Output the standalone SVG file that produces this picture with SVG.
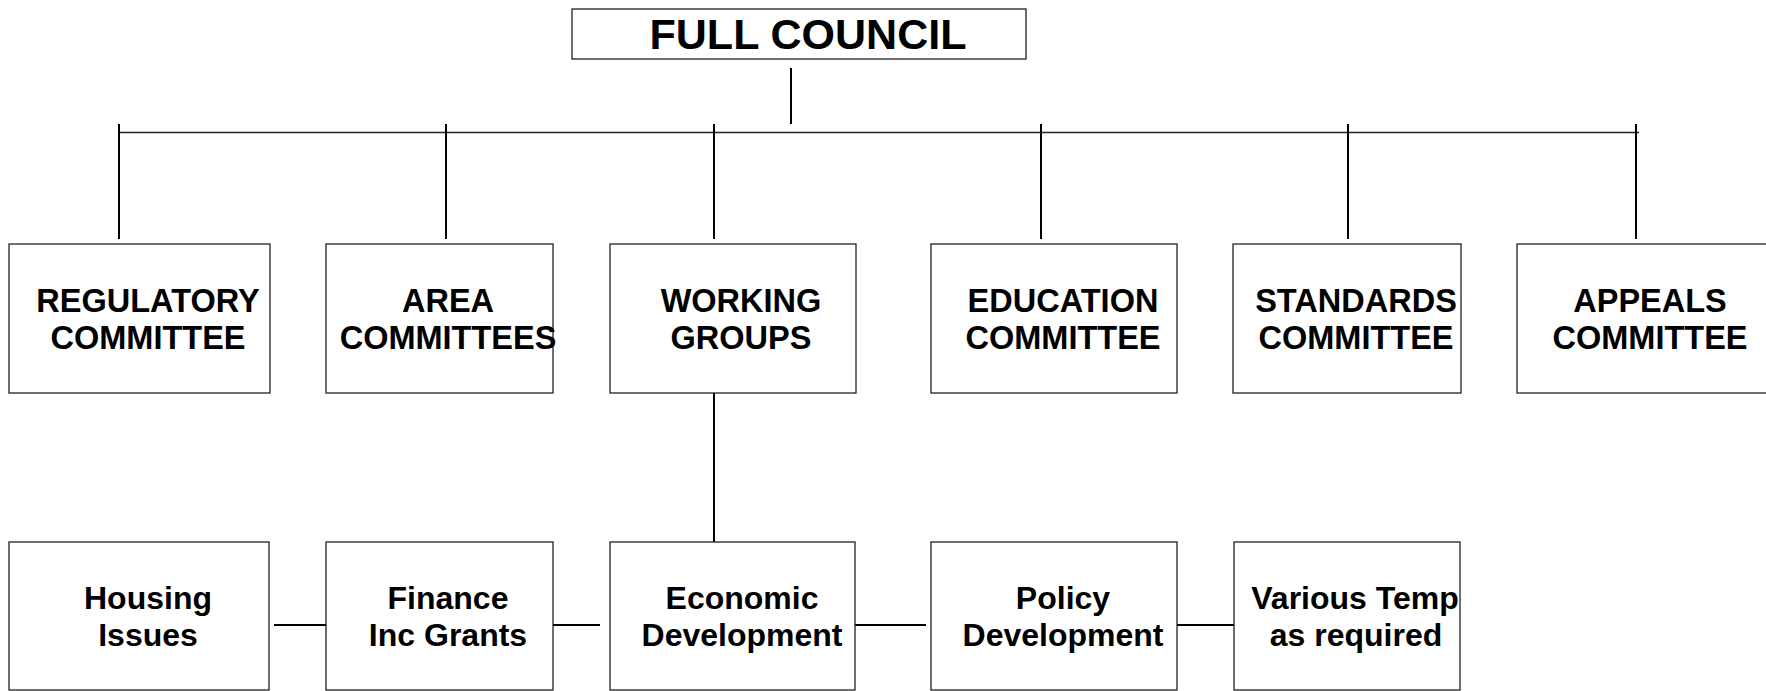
<svg xmlns="http://www.w3.org/2000/svg" width="1766" height="691" viewBox="0 0 1766 691">
<style>
.box{fill:#fff;stroke:#222;stroke-width:1.3}
.t{font-family:"Liberation Sans",Arial,sans-serif;font-weight:bold;font-size:32.5px;fill:#000;text-anchor:middle}
.s{font-size:32px}
.big{font-size:43px}
.c{stroke:#000;stroke-width:2;fill:none}
.bar{stroke:#222;stroke-width:1.3;fill:none}
</style>
<rect width="1766" height="691" fill="#fff"/>
<g id="connectors">
<line class="c" x1="791" y1="68" x2="791" y2="124"/>
<line class="bar" x1="119" y1="132.5" x2="1639" y2="132.5"/>
<line class="c" x1="119" y1="124" x2="119" y2="239"/>
<line class="c" x1="446" y1="124" x2="446" y2="239"/>
<line class="c" x1="714" y1="124" x2="714" y2="239"/>
<line class="c" x1="1041" y1="124" x2="1041" y2="239"/>
<line class="c" x1="1348" y1="124" x2="1348" y2="239"/>
<line class="c" x1="1636" y1="124" x2="1636" y2="239"/>
<line class="c" x1="714" y1="393" x2="714" y2="547"/>
<line class="c" x1="274" y1="625" x2="331" y2="625"/>
<line class="c" x1="542" y1="625" x2="600" y2="625"/>
<line class="c" x1="850" y1="625" x2="926" y2="625"/>
<line class="c" x1="1177" y1="625" x2="1234" y2="625"/>
</g>
<g id="full-council">
<rect class="box" x="572" y="9" width="454" height="50"/>
<text class="t big" x="808" y="49">FULL COUNCIL</text>
</g>
<g id="regulatory">
<rect class="box" x="9" y="244" width="261" height="149"/>
<text class="t" x="148" y="312">REGULATORY</text>
<text class="t" x="148" y="349">COMMITTEE</text>
</g>
<g id="area">
<rect class="box" x="326" y="244" width="227" height="149"/>
<text class="t" x="448" y="312">AREA</text>
<text class="t" x="448" y="349">COMMITTEES</text>
</g>
<g id="working">
<rect class="box" x="610" y="244" width="246" height="149"/>
<text class="t" x="741" y="312">WORKING</text>
<text class="t" x="741" y="349">GROUPS</text>
</g>
<g id="education">
<rect class="box" x="931" y="244" width="246" height="149"/>
<text class="t" x="1063" y="312">EDUCATION</text>
<text class="t" x="1063" y="349">COMMITTEE</text>
</g>
<g id="standards">
<rect class="box" x="1233" y="244" width="228" height="149"/>
<text class="t" x="1356" y="312">STANDARDS</text>
<text class="t" x="1356" y="349">COMMITTEE</text>
</g>
<g id="appeals">
<rect class="box" x="1517" y="244" width="260" height="149"/>
<text class="t" x="1650" y="312">APPEALS</text>
<text class="t" x="1650" y="349">COMMITTEE</text>
</g>
<g id="housing">
<rect class="box" x="9" y="542" width="260" height="148"/>
<text class="t s" x="148" y="609">Housing</text>
<text class="t s" x="148" y="646">Issues</text>
</g>
<g id="finance">
<rect class="box" x="326" y="542" width="227" height="148"/>
<text class="t s" x="448" y="609">Finance</text>
<text class="t s" x="448" y="646">Inc Grants</text>
</g>
<g id="economic">
<rect class="box" x="610" y="542" width="245" height="148"/>
<text class="t s" x="742" y="609">Economic</text>
<text class="t s" x="742" y="646">Development</text>
</g>
<g id="policy">
<rect class="box" x="931" y="542" width="246" height="148"/>
<text class="t s" x="1063" y="609">Policy</text>
<text class="t s" x="1063" y="646">Development</text>
</g>
<g id="various">
<rect class="box" x="1234" y="542" width="226" height="148"/>
<text class="t s" x="1355" y="609">Various Temp</text>
<text class="t s" x="1356" y="646">as required</text>
</g>
</svg>
